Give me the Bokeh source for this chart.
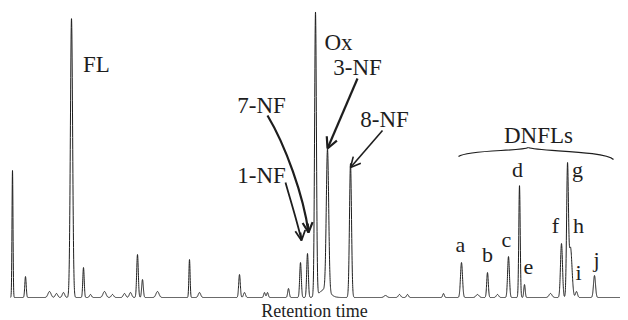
import numpy as np
from bokeh.plotting import figure
from bokeh.models import Range1d, FixedTicker, Label, Arrow, OpenHead
from bokeh.embed import file_html
from bokeh.resources import INLINE

# ---------------- data ----------------
# retention time (min), peak height (arbitrary units), peak width sigma (min)
peak_time = [0.20, 0.85, 2.05, 2.40, 2.75, 3.15, 3.75, 4.10, 4.80, 5.20,
             5.80, 6.10, 6.45, 6.70, 7.45, 9.05, 9.55, 11.55, 11.80, 12.80,
             12.95, 14.00, 14.60, 14.95, 15.35, 15.95, 15.80, 17.10, 18.85, 19.55,
             19.95, 21.75, 22.65, 23.45, 23.95, 24.45, 25.00, 25.55, 25.80, 27.10,
             27.65, 27.95, 28.10, 28.40, 29.30]
peak_height = [127, 21, 6, 4, 5, 279, 30, 3, 6, 3,
               4, 5, 43, 18, 6, 38, 5, 23, 5, 5,
               5, 9, 35, 44, 284, 142, 8, 134, 2, 3,
               3, 4, 35, 3, 25, 3, 41, 112, 13, 4,
               54, 128, 50, 6, 22]
peak_sigma = [0.025, 0.035, 0.075, 0.06, 0.06, 0.055, 0.035, 0.05, 0.075, 0.06,
              0.06, 0.06, 0.04, 0.04, 0.075, 0.03, 0.06, 0.04, 0.05, 0.04,
              0.04, 0.04, 0.04, 0.04, 0.045, 0.06, 0.25, 0.05, 0.075, 0.06,
              0.05, 0.04, 0.05, 0.075, 0.04, 0.06, 0.045, 0.035, 0.035, 0.075,
              0.05, 0.045, 0.075, 0.05, 0.05]

# peak annotations: text, time, height of text baseline
label_text = ["FL", "7-NF", "1-NF", "Ox", "3-NF", "8-NF", "DNFLs",
              "a", "b", "c", "d", "e", "f", "g", "h", "i", "j"]
label_time = [4.40, 12.65, 12.65, 16.50, 17.45, 18.80, 26.50,
              22.60, 23.95, 24.90, 25.45, 26.00, 27.35, 28.45, 28.50, 28.50, 29.40]
label_level = [233, 192, 122, 255, 230, 178, 162,
               53, 43, 58, 128, 31, 72, 128, 72, 25, 38]

x_label = "Retention time"

# ---------------- trace ----------------
t = np.arange(0.1, 30.6, 0.004)
signal = np.zeros_like(t)
for c, h, s in zip(peak_time, peak_height, peak_sigma):
    signal += h * np.exp(-0.5 * ((t - c) / s) ** 2)

ink = "#1e1e1e"
serif = "Liberation Serif"

p = figure(frame_width=612, frame_height=292, output_backend="svg",
           toolbar_location=None, x_range=Range1d(0, 30.6), y_range=Range1d(-3, 289),
           min_border_left=8, min_border_top=8, min_border_right=0, min_border_bottom=0,
           outline_line_color=None, background_fill_color="white")
p.grid.visible = False
p.yaxis.visible = False
p.xaxis.ticker = FixedTicker(ticks=[])
p.xaxis.axis_line_color = None
p.xaxis.major_tick_line_color = None
p.xaxis.minor_tick_line_color = None
p.xaxis.axis_label = x_label
p.xaxis.axis_label_text_font = serif
p.xaxis.axis_label_text_font_style = "normal"
p.xaxis.axis_label_text_font_size = "18px"
p.xaxis.axis_label_text_color = ink
p.xaxis.axis_label_standoff = 0

p.line(t, signal, line_color=ink, line_width=1)

for i, (txt, lt, lv) in enumerate(zip(label_text, label_time, label_level)):
    size = "23px" if i < 7 else "22px"
    p.add_layout(Label(x=lt, y=lv, text=txt, text_align="center", text_baseline="alphabetic",
                       text_font=serif, text_font_size=size, text_color=ink))

# ---------------- arrows (annotation layout) ----------------
# curved arrow 7-NF
p.bezier(x0=[12.95], y0=[182], x1=[15.00], y1=[65], cx0=[13.85], cy0=[152],
         cx1=[14.75], cy1=[102], line_color=ink, line_width=2.2)
p.add_layout(Arrow(end=OpenHead(size=10, line_width=2.2, line_color=ink),
                   x_start=14.96, y_start=74, x_end=15.00, y_end=65,
                   line_color=ink, line_width=2.2))
# 1-NF
p.bezier(x0=[13.85], y0=[115], x1=[14.65], y1=[57], cx0=[14.10], cy0=[97],
         cx1=[14.45], cy1=[75], line_color=ink, line_width=1.8)
p.add_layout(Arrow(end=OpenHead(size=10, line_width=1.8, line_color=ink),
                   x_start=14.60, y_start=65, x_end=14.65, y_end=57,
                   line_color=ink, line_width=1.8))
# 3-NF
p.add_layout(Arrow(end=OpenHead(size=11, line_width=2.2, line_color=ink),
                   x_start=17.45, y_start=219, x_end=15.95, y_end=149,
                   line_color=ink, line_width=2.2))
# 8-NF
p.add_layout(Arrow(end=OpenHead(size=10, line_width=1.6, line_color=ink),
                   x_start=18.70, y_start=167, x_end=17.10, y_end=130,
                   line_color=ink, line_width=1.6))

# brace over DNFLs
p.bezier(x0=[22.5, 26.0], y0=[141, 150], x1=[26.0, 30.25], y1=[150, 138],
         cx0=[23.0, 26.4], cy0=[148, 146], cx1=[25.6, 29.8], cy1=[146, 147],
         line_color=ink, line_width=1.2)

open("out.html", "w").write(file_html(p, INLINE))
